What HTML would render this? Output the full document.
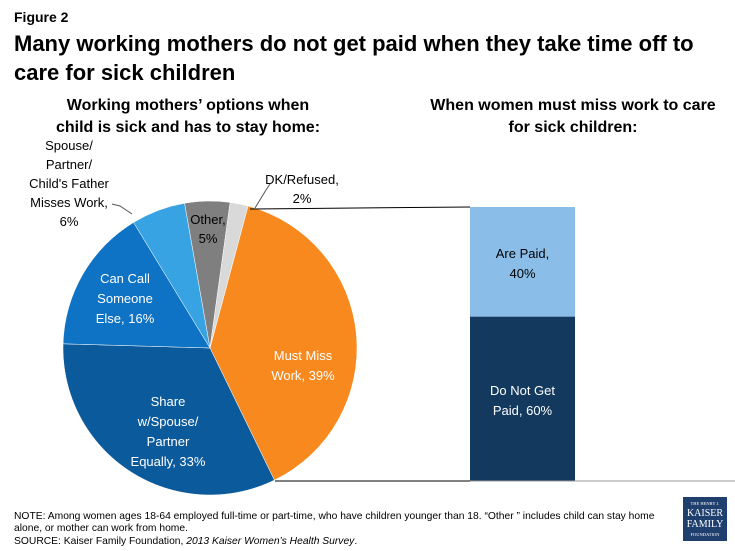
<!DOCTYPE html>
<html><head><meta charset="utf-8"><style>
body{margin:0;width:735px;height:551px;background:#fff;font-family:"Liberation Sans",sans-serif;overflow:hidden}
svg{position:absolute;left:0;top:0}
</style></head><body>
<svg width="735" height="551" id="svg">
<text x="14" y="22" font-size="14" font-weight="bold" fill="#000">Figure 2</text>
<text x="14" y="51" font-size="22" font-weight="bold" fill="#000">Many working mothers do not get paid when they take time off to</text>
<text x="14" y="80" font-size="22" font-weight="bold" fill="#000">care for sick children</text>
<text x="188" y="110" font-size="16" font-weight="bold" text-anchor="middle">Working mothers’ options when</text>
<text x="188" y="132" font-size="16" font-weight="bold" text-anchor="middle">child is sick and has to stay home:</text>
<text x="573" y="110" font-size="16" font-weight="bold" text-anchor="middle">When women must miss work to care</text>
<text x="573" y="132" font-size="16" font-weight="bold" text-anchor="middle">for sick children:</text>
<g id="pie"></g>
<g id="bar"></g>
<line x1="250" y1="209" x2="470" y2="207" stroke="#000" stroke-width="1"/>
<line x1="275" y1="481" x2="470" y2="481" stroke="#000" stroke-width="1"/>
<line x1="470" y1="481" x2="735" y2="481" stroke="#999" stroke-width="1"/>
<text x="14" y="519" font-size="10.3">NOTE: Among women ages 18-64 employed full-time or part-time, who have children younger than 18.  “Other ” includes child can stay home</text>
<text x="14" y="531" font-size="10.3">alone, or mother can work from home.</text>
<text x="14" y="544" font-size="10.3">SOURCE: Kaiser Family Foundation, <tspan font-style="italic">2013 Kaiser Women’s Health Survey</tspan>.</text>
<g>
<rect x="683" y="497" width="44" height="44" fill="#1f3f6e"/>
<text x="705" y="505" font-size="4.5" fill="#fff" text-anchor="middle" font-family="Liberation Serif,serif">THE HENRY J.</text>
<text x="705" y="516" font-size="10" fill="#fff" text-anchor="middle" font-family="Liberation Serif,serif">KAISER</text>
<text x="705" y="527" font-size="10" fill="#fff" text-anchor="middle" font-family="Liberation Serif,serif">FAMILY</text>
<text x="705" y="536" font-size="4.5" fill="#fff" text-anchor="middle" font-family="Liberation Serif,serif">FOUNDATION</text>
</g>
</svg>
<script>
const categories=["Must Miss Work","Share w/Spouse/Partner Equally","Can Call Someone Else","Spouse/Partner/Child's Father Misses Work","Other","DK/Refused"];
const values=[39,33,16,6,5,2];
const barCategories=["Do Not Get Paid","Are Paid"];
const barValues=[60,40];
const colors=["#f7891e","#0b5a9c","#0e73c4","#38a3e2","#7f7f7f","#d9d9d9"];
const NS="http://www.w3.org/2000/svg";
const cx=210,cy=348,r=147,start=15;
const total=values.reduce((a,b)=>a+b,0);
function pt(deg,rad){const a=(deg-90)*Math.PI/180;return [cx+rad*Math.cos(a),cy+rad*Math.sin(a)];}
const pie=document.getElementById('pie');
let ang=start;
values.forEach((v,i)=>{
  const sw=v/total*360,a0=ang,a1=ang+sw;
  const p0=pt(a0,r),p1=pt(a1,r);
  const p=document.createElementNS(NS,'path');
  p.setAttribute('d',`M${cx},${cy}L${p0[0]},${p0[1]}A${r},${r} 0 ${sw>180?1:0} 1 ${p1[0]},${p1[1]}Z`);
  p.setAttribute('fill',colors[i]);p.setAttribute('stroke','#fff');p.setAttribute('stroke-width','0.5');
  
  
  pie.appendChild(p);ang=a1;
});
const labels=[
 {x:303,y:[360,380],t:["Must Miss","Work, 39%"],c:"#fff"},
 {x:168,y:[406,426,446,466],t:["Share","w/Spouse/","Partner","Equally, 33%"],c:"#fff"},
 {x:125,y:[283,303,323],t:["Can Call","Someone","Else, 16%"],c:"#fff"},
 {x:69,y:[150,169,188,207,226],t:["Spouse/","Partner/","Child's Father","Misses Work,","6%"],c:"#000"},
 {x:208,y:[224,243],t:["Other,","5%"],c:"#000"},
 {x:302,y:[184,203],t:["DK/Refused,","2%"],c:"#000"}];
labels.forEach(l=>{l.t.forEach((s,j)=>{const t=document.createElementNS(NS,'text');
 t.setAttribute('x',l.x);t.setAttribute('y',l.y[j]);t.setAttribute('font-size','13');t.setAttribute('text-anchor','middle');t.setAttribute('fill',l.c);t.textContent=s;
 
 
 pie.appendChild(t);});});
[[ "M112,204 L120,206 L132,214"],["M255,208 L266,190 L270,184"]].forEach(d=>{const p=document.createElementNS(NS,'path');p.setAttribute('d',d[0]);p.setAttribute('stroke','#555');p.setAttribute('fill','none');
 
 
 pie.appendChild(p);});
const bar=document.getElementById('bar');
const bx=470,bw=105,by0=481,bh=274;
const bcol=["#133a5e","#8bbde9"];
let acc=0;
const btxt=[["Do Not Get","Paid, 60%"],["Are Paid,","40%"]];
barValues.forEach((v,i)=>{
  const h=v/100*bh,y=by0-(acc+v)/100*bh;
  const rc=document.createElementNS(NS,'rect');
  rc.setAttribute('x',bx);rc.setAttribute('y',y);rc.setAttribute('width',bw);rc.setAttribute('height',h);rc.setAttribute('fill',bcol[i]);
  
  
  bar.appendChild(rc);
  btxt[i].forEach((s,j)=>{const t=document.createElementNS(NS,'text');
   t.setAttribute('x',bx+bw/2);t.setAttribute('y',y+h/2-4+j*20);t.setAttribute('font-size','13');t.setAttribute('text-anchor','middle');t.setAttribute('fill',i==0?'#fff':'#000');t.textContent=s;
   
   
   bar.appendChild(t);});
  acc+=v;
});
</script>
</body></html>
